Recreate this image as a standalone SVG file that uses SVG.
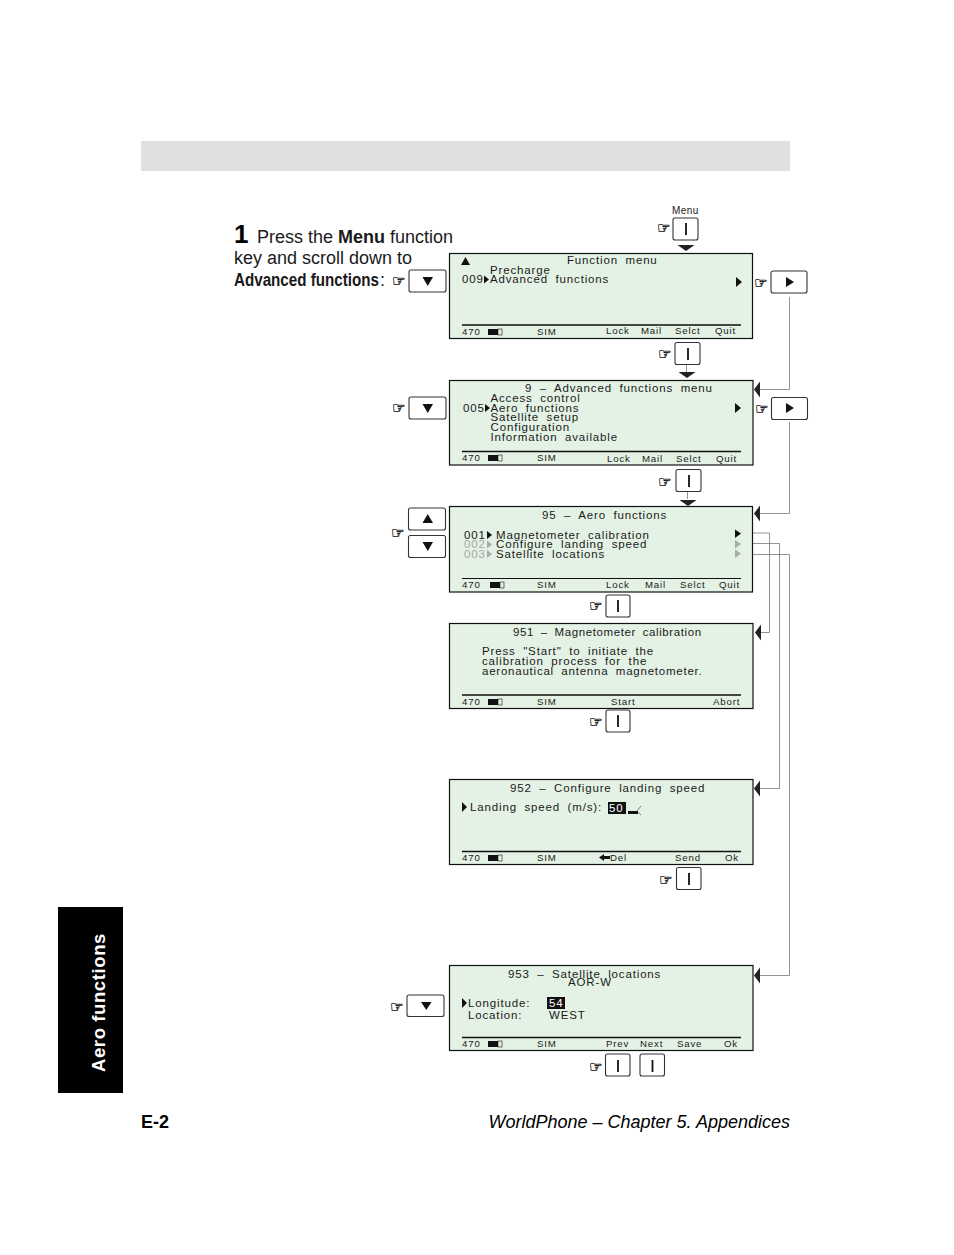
<svg xmlns="http://www.w3.org/2000/svg" width="954" height="1255" viewBox="0 0 954 1255">
<style>
text{font-family:"Liberation Sans",Arial,sans-serif;fill:#1a1a1a}
.lcd{fill:#e4f2e5;stroke:#111;stroke-width:1.2}
.t{font-size:11.5px;letter-spacing:.85px;word-spacing:3.5px}
.s{font-size:9.700px;letter-spacing:.8px}
.bar{stroke:#111;stroke-width:1.6}
.key{fill:#fff;stroke:#333;stroke-width:1.1}
.ib{stroke:#111;stroke-width:1.8}
.h{font-family:"DejaVu Sans",sans-serif;font-size:15px;fill:#222;stroke:#222;stroke-width:.35}
.c{fill:none;stroke:#777;stroke-width:.8}
.m{font-size:18px}
</style>
<defs>
<g id="bat"><rect x="0" y="-6" width="10" height="6" fill="#111"/><rect x="10" y="-6" width="4" height="6" fill="none" stroke="#111" stroke-width=".6"/></g>
<path id="ah" d="M0 0L6 -8V8Z" fill="#222"/>
<path id="r" d="M0 -4L5 0L0 4Z" fill="#111"/>
<path id="rg" d="M0 -4L5 0L0 4Z" fill="#aaa"/>
<path id="da" d="M-8.500 0H8.500L0 6Z" fill="#222"/>
</defs>
<rect id="header-band" x="141" y="141" width="649" height="30" fill="#e0e0e0"/>
<g id="side-tab"><rect x="58" y="907" width="65" height="186" fill="#000"/><text transform="translate(105,1072) rotate(-90)" font-size="18.500" font-weight="700" style="fill:#fff;letter-spacing:.6px">Aero functions</text></g>
<g id="intro">
<text x="234" y="243" font-size="26" font-weight="700" style="fill:#000">1</text>
<text x="257" y="243" class="m">Press the <tspan font-weight="700">Menu</tspan> function</text>
<text x="234" y="264" class="m">key and scroll down to</text>
<text x="234" y="286" class="m" font-weight="700" textLength="145" lengthAdjust="spacingAndGlyphs">Advanced functions</text><text x="380" y="286" class="m">:</text>
</g>
<g id="connectors">
<path class="c" d="M789.500 297V389.500H760"/>
<path class="c" d="M789.500 422V513.500H760"/>
<path class="c" d="M743 533H769.500V632.500H760"/>
<path class="c" d="M743 543.500H779.500V788.500H760"/>
<path class="c" d="M743 554.500H789.500V975.500H760"/>
<path class="c" d="M686.500 365V372M687.500 492V499"/>
<use href="#ah" x="754" y="389.500"/><use href="#ah" x="754" y="513.500"/><use href="#ah" x="755" y="632.500"/><use href="#ah" x="754" y="788.500"/><use href="#ah" x="754" y="975.500"/>
<use href="#da" x="686" y="245"/><use href="#da" x="687" y="372"/><use href="#da" x="688" y="500"/>
</g>
<g id="screen-function-menu">
<rect class="lcd" x="449.500" y="253.500" width="303" height="85"/>
<path d="M461 265L465.500 257L470 265Z" fill="#111"/>
<text class="t" x="567" y="264">Function menu</text>
<text class="t" x="490" y="274">Precharge</text>
<text class="t" x="462" y="283">009</text><use href="#r" x="484" y="279.500"/><text class="t" x="490" y="283">Advanced functions</text>
<path d="M736 277V287L742 282Z" fill="#111"/>
<path class="bar" d="M462 325H741"/>
<text class="s" x="462" y="335">470</text><use href="#bat" x="488" y="335"/><text class="s" x="537" y="335">SIM</text><text class="s" x="606" y="334">Lock</text><text class="s" x="641" y="334">Mail</text><text class="s" x="675" y="334">Selct</text><text class="s" x="715" y="334">Quit</text>
</g>
<g id="screen-advanced">
<rect class="lcd" x="449.500" y="380.500" width="303.500" height="84.500"/>
<text class="t" x="525" y="392">9 – Advanced functions menu</text>
<text class="t" x="490.500" y="402">Access control</text>
<text class="t" x="463" y="412">005</text><use href="#r" x="485" y="408"/><text class="t" x="490.500" y="412">Aero functions</text>
<text class="t" x="490.500" y="421">Satellite setup</text>
<text class="t" x="490.500" y="431">Configuration</text>
<text class="t" x="490.500" y="441">Information available</text>
<path d="M735 403V413L741 408Z" fill="#111"/>
<path class="bar" d="M462 451.500H741"/>
<text class="s" x="462" y="461">470</text><use href="#bat" x="488" y="461"/><text class="s" x="537" y="461">SIM</text><text class="s" x="607" y="462">Lock</text><text class="s" x="642" y="462">Mail</text><text class="s" x="676" y="462">Selct</text><text class="s" x="716" y="462">Quit</text>
</g>
<g id="screen-aero">
<rect class="lcd" x="449.500" y="506.500" width="303" height="85.500"/>
<text class="t" x="542" y="519">95 – Aero functions</text>
<text class="t" x="464" y="539">001</text><use href="#r" x="487" y="535"/><text class="t" x="496" y="539">Magnetometer calibration</text>
<text class="t" x="464" y="548" style="fill:#a8a8a8">002</text><use href="#rg" x="487" y="544.500"/><text class="t" x="496" y="548">Configure landing speed</text>
<text class="t" x="464" y="558" style="fill:#a8a8a8">003</text><use href="#rg" x="487" y="554"/><text class="t" x="496" y="558">Satellite locations</text>
<path d="M735 529.500V538L741 533.500Z" fill="#111"/><path d="M735 540V548.500L741 544Z" fill="#aaa"/><path d="M735 549.500V558L741 553.500Z" fill="#aaa"/>
<path d="M462 578.500H741" stroke="#111"/>
<text class="s" x="462" y="588">470</text><use href="#bat" x="490" y="588"/><text class="s" x="537" y="588">SIM</text><text class="s" x="606" y="588">Lock</text><text class="s" x="645" y="588">Mail</text><text class="s" x="680" y="588">Selct</text><text class="s" x="719" y="588">Quit</text>
</g>
<g id="screen-magnetometer">
<rect class="lcd" x="449.500" y="623.500" width="303.500" height="85"/>
<text class="t" x="513" y="636" style="letter-spacing:.6px;word-spacing:3px">951 – Magnetometer calibration</text>
<text class="t" x="482" y="655">Press "Start" to initiate the</text>
<text class="t" x="482" y="665">calibration process for the</text>
<text class="t" x="482" y="675" style="letter-spacing:.77px">aeronautical antenna magnetometer.</text>
<path class="bar" d="M462 695H741"/>
<text class="s" x="462" y="705">470</text><use href="#bat" x="488" y="705"/><text class="s" x="537" y="705">SIM</text><text class="s" x="611" y="705">Start</text><text class="s" x="713" y="705">Abort</text>
</g>
<g id="screen-landing">
<rect class="lcd" x="449.500" y="779.500" width="303.500" height="85"/>
<text class="t" x="510" y="792">952 – Configure landing speed</text>
<path d="M462 802V812L467 807Z" fill="#111"/>
<text class="t" x="470" y="811">Landing speed (m/s):</text>
<rect x="608" y="802" width="18" height="12" fill="#111"/><text class="t" x="609" y="812" style="fill:#fff">50</text>
<path d="M628 811H638V814H628Z" fill="#111"/><path d="M641 806L637 811L641 815" fill="none" stroke="#333" stroke-width=".6"/>
<path class="bar" d="M462 851.500H741"/>
<text class="s" x="462" y="861">470</text><use href="#bat" x="488" y="861"/><text class="s" x="537" y="861">SIM</text>
<path d="M599 857.500L604 854V856H610V859H604V861Z" fill="#111"/><text class="s" x="610" y="861">Del</text><text class="s" x="675" y="861">Send</text><text class="s" x="725" y="861">Ok</text>
</g>
<g id="screen-satellite">
<rect class="lcd" x="449.500" y="965.500" width="303.500" height="85"/>
<text class="t" x="508" y="978">953 – Satellite locations</text>
<text class="t" x="568" y="986">AOR-W</text>
<path d="M462 998V1008L467 1003Z" fill="#111"/>
<text class="t" x="468" y="1007">Longitude:</text>
<rect x="547" y="997" width="18" height="12" fill="#111"/><text class="t" x="549" y="1007" style="fill:#fff">54</text>
<text class="t" x="468" y="1019">Location:</text><text class="t" x="549" y="1019">WEST</text>
<path class="bar" d="M462 1037.500H741"/>
<text class="s" x="462" y="1047">470</text><use href="#bat" x="488" y="1047"/><text class="s" x="537" y="1047">SIM</text><text class="s" x="606" y="1047">Prev</text><text class="s" x="640" y="1047">Next</text><text class="s" x="677" y="1047">Save</text><text class="s" x="724" y="1047">Ok</text>
</g>
<g id="key-menu"><text x="672" y="214" font-size="10" style="letter-spacing:.45px">Menu</text><text class="h" x="657" y="233">☞</text><rect class="key" x="673" y="218" width="25" height="22" rx="2"/><path class="ib" d="M686 223V235"/></g>
<g id="key-select-1"><text class="h" x="658" y="359">☞</text><rect class="key" x="675" y="342.500" width="25" height="22" rx="2"/><path class="ib" d="M688 348V360"/></g>
<g id="key-select-2"><text class="h" x="658" y="487">☞</text><rect class="key" x="676" y="469.500" width="25" height="22" rx="2"/><path class="ib" d="M689 475V487"/></g>
<g id="key-down-1"><text class="h" x="392" y="286">☞</text><rect class="key" x="409" y="270" width="37" height="22" rx="2"/><path d="M422.500 277H433L427.750 286Z" fill="#111"/></g>
<g id="key-right-1"><text class="h" x="754" y="288">☞</text><rect class="key" x="771" y="271" width="36" height="22" rx="2"/><path d="M786 277V287L794 282Z" fill="#111"/></g>
<g id="key-down-2"><text class="h" x="392" y="413">☞</text><rect class="key" x="409" y="397" width="37" height="22" rx="2"/><path d="M422.500 404H433L427.750 413Z" fill="#111"/></g>
<g id="key-right-2"><text class="h" x="755" y="414">☞</text><rect class="key" x="771.500" y="397.500" width="36" height="22" rx="2"/><path d="M786 403V413L794 408Z" fill="#111"/></g>
<g id="key-updown"><text class="h" x="391" y="538">☞</text><rect class="key" x="408.500" y="508" width="37" height="22" rx="2"/><path d="M422.500 523H433L427.750 514Z" fill="#111"/><rect class="key" x="408.500" y="535.500" width="37" height="22" rx="2"/><path d="M422.500 542H433L427.750 551Z" fill="#111"/></g>
<g id="key-select-3"><text class="h" x="589" y="611">☞</text><rect class="key" x="606" y="595" width="24" height="22" rx="2"/><path class="ib" d="M618 600V612"/></g>
<g id="key-select-4"><text class="h" x="589" y="727">☞</text><rect class="key" x="606" y="710" width="24" height="22" rx="2"/><path class="ib" d="M618 715V727"/></g>
<g id="key-select-5"><text class="h" x="659" y="885">☞</text><rect class="key" x="676.500" y="867.500" width="24.500" height="22" rx="2"/><path class="ib" d="M689 873V885"/></g>
<g id="key-down-3"><text class="h" x="390" y="1012">☞</text><rect class="key" x="407" y="995" width="37" height="21.500" rx="2"/><path d="M421 1002H431.500L426.250 1010Z" fill="#111"/></g>
<g id="key-select-6"><text class="h" x="589" y="1072">☞</text><rect class="key" x="605.500" y="1054" width="24.500" height="22" rx="2"/><path class="ib" d="M618 1060V1072"/><rect class="key" x="640" y="1054" width="24.500" height="22" rx="2"/><path class="ib" d="M652.500 1060V1072"/></g>
<g id="footer">
<text x="141" y="1128" font-size="18" font-weight="700" style="fill:#000">E-2</text>
<text x="790" y="1128" font-size="18" font-style="italic" text-anchor="end" style="fill:#000">WorldPhone – Chapter 5. Appendices</text>
</g>
</svg>
